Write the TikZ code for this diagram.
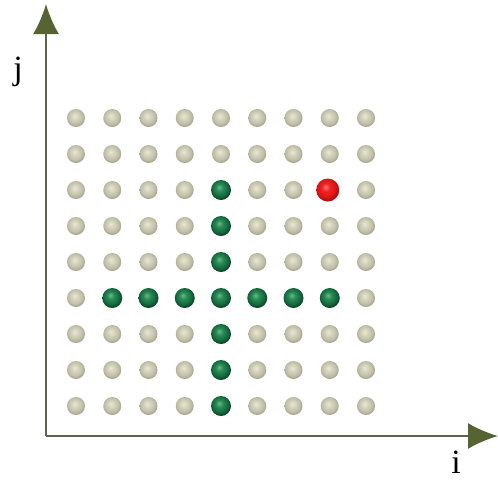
\documentclass[tikz,border=0pt]{standalone}
\usepackage{fontspec}
\setmainfont{Liberation Serif}
\usetikzlibrary{arrows.meta}
\definecolor{axisc}{RGB}{95,100,80}
\definecolor{tipc}{RGB}{85,100,50}
\pgfdeclareradialshading{grayshade}{\pgfpoint{-4bp}{6bp}}{%
  color(0bp)=(rgb,255:red,232;green,232;blue,214);
  color(10bp)=(rgb,255:red,212;green,210;blue,188);
  color(20bp)=(rgb,255:red,192;green,190;blue,166);
  color(26bp)=(rgb,255:red,165;green,165;blue,145);
  color(50bp)=(rgb,255:red,165;green,165;blue,145)}
\pgfdeclareradialshading{greenshade}{\pgfpoint{-5bp}{7bp}}{%
  color(0bp)=(rgb,255:red,110;green,185;blue,140);
  color(9bp)=(rgb,255:red,40;green,140;blue,85);
  color(20bp)=(rgb,255:red,20;green,105;blue,60);
  color(26bp)=(rgb,255:red,12;green,70;blue,40);
  color(50bp)=(rgb,255:red,12;green,70;blue,40)}
\pgfdeclareradialshading{redshade}{\pgfpoint{-5bp}{7bp}}{%
  color(0bp)=(rgb,255:red,255;green,120;blue,120);
  color(9bp)=(rgb,255:red,240;green,35;blue,35);
  color(20bp)=(rgb,255:red,220;green,20;blue,20);
  color(26bp)=(rgb,255:red,170;green,15;blue,15);
  color(50bp)=(rgb,255:red,170;green,15;blue,15)}
\tikzset{
  axis/.style={draw=axisc, line width=2pt, -{Latex[length=30pt,width=26pt,color=tipc]}},
  gball/.style={circle, inner sep=0pt, minimum size=18pt, shading=grayshade},
  kball/.style={circle, inner sep=0pt, minimum size=20pt, shading=greenshade},
  rball/.style={circle, inner sep=0pt, minimum size=23pt, shading=redshade},
  lab/.style={font=\fontsize{34}{34}\selectfont, inner sep=0pt}
}
\begin{document}
\begin{tikzpicture}[x=1pt,y=-1pt]
\useasboundingbox (0,0) rectangle (498,483);
\coordinate (o) at (46,436);
\coordinate (ytop) at (46,4);
\coordinate (xend) at (498,436);
\draw[axis] (o) -- (ytop);
\draw[axis] (o) -- (xend);
\node[lab] (lj) at (18,72) {j};
\node[lab] (li) at (456,462) {i};
\foreach \c in {1,...,9}{
  \foreach \r in {1,...,9}{
    \pgfmathsetmacro{\xx}{76+(\c-1)*36.25}
    \pgfmathsetmacro{\yy}{118+(\r-1)*36}
    \pgfmathtruncatemacro{\isgreen}{(\c==5 && \r>=3) || (\r==6 && \c>=2 && \c<=8) ? 1 : 0}
    \pgfmathtruncatemacro{\isred}{(\c==8 && \r==3) ? 1 : 0}
    \ifnum\isred=1
      \node[rball] (b\c-\r) at (\xx-2,\yy) {};
    \else\ifnum\isgreen=1
      \node[kball] (b\c-\r) at (\xx,\yy) {};
    \else
      \node[gball] (b\c-\r) at (\xx,\yy) {};
    \fi\fi
  }
}
\end{tikzpicture}
\end{document}
